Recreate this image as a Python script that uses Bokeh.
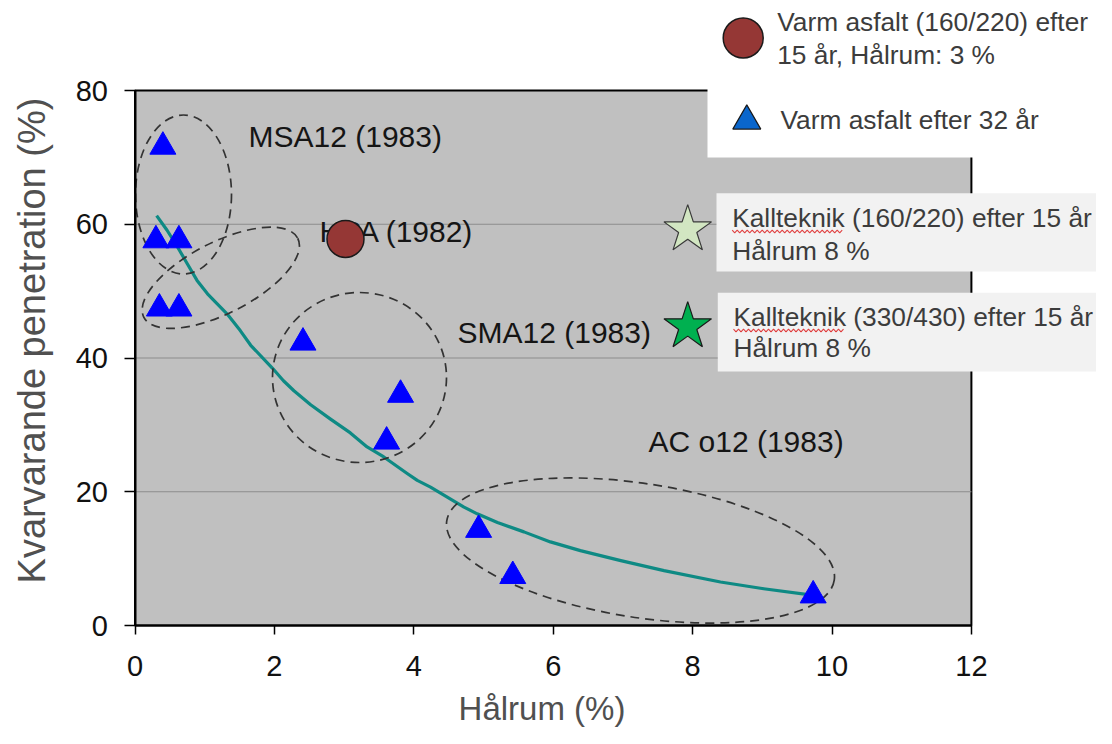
import math
from bokeh.plotting import figure
from bokeh.models import Range1d, FixedTicker
from bokeh.embed import file_html
from bokeh.resources import INLINE
from bokeh.core.properties import value

# ---------------- data ----------------
tri_x = [0.4, 0.3, 0.63, 0.35, 0.63, 2.41, 3.81, 3.61, 4.93, 5.42, 9.73]
tri_y = [71.6, 57.6, 57.6, 47.4, 47.4, 42.3, 34.5, 27.5, 14.3, 7.4, 4.5]

hpa_x = [3.02]
hpa_y = [57.8]

kall1_x = [7.93]
kall1_y = [59.2]
kall2_x = [7.93]
kall2_y = [44.7]

trend_x = [0.31, 0.46, 0.61, 0.75, 0.89, 1.04, 1.18, 1.32, 1.51, 1.66, 1.97, 2.13, 2.28,
           2.52, 2.80, 3.09, 3.33, 3.57, 3.91, 4.05, 4.24, 4.48, 4.72, 4.91, 5.20, 5.58,
           5.96, 6.39, 6.97, 7.59, 8.40, 9.02, 9.74]
trend_y = [61.3, 59.1, 56.6, 54.1, 51.6, 49.6, 48.1, 46.6, 44.1, 41.9, 38.5, 36.6, 35.1,
           33.0, 30.9, 28.8, 26.7, 25.2, 22.7, 21.7, 20.7, 19.2, 17.7, 16.7, 15.4, 14.0,
           12.5, 11.2, 9.7, 8.2, 6.5, 5.5, 4.5]

x_ticks = [0, 2, 4, 6, 8, 10, 12]
y_ticks = [0, 20, 40, 60, 80]

group_names = ["MSA12 (1983)", "HPA (1982)", "SMA12 (1983)", "AC o12 (1983)"]

legend_texts = ["Varm asfalt (160/220) efter", "15 år, Hålrum:  3 %", "Varm asfalt efter 32 år"]
kall1_texts = ["Kallteknik  (160/220) efter 15 år", "Hålrum  8 %"]
kall2_texts = ["Kallteknik  (330/430) efter 15 år", "Hålrum  8 %"]

x_title = "Hålrum (%)"
y_title = "Kvarvarande penetration (%)"

# ---------------- layout helpers (picture pixels -> data) ----------------
X0PX, XSC = 134.5, 69.7     # picture x of value 0, px per unit
Y0PX, YSC = 625.0, 6.6875   # picture y of value 0, px per unit
W, H = 1096, 728


def dx(px):
    return (px - X0PX) / XSC


def dy(py):
    return (Y0PX - py) / YSC


FONT = value("Liberation Sans")

p = figure(width=W, height=H, output_backend="svg", toolbar_location=None,
           x_range=Range1d(dx(0), dx(W)), y_range=Range1d(dy(H), dy(0)),
           min_border=0, min_border_left=0, min_border_right=0,
           min_border_top=0, min_border_bottom=0,
           outline_line_color=None, background_fill_color="white",
           border_fill_color="white")
p.xgrid.visible = False
p.ygrid.visible = False

# axes drawn through the origin of the grey plotting area
for ax, ticks, bounds in ((p.xaxis[0], x_ticks, (0, 12)), (p.yaxis[0], y_ticks, (0, 80))):
    ax.fixed_location = 0
    ax.bounds = bounds
    ax.ticker = FixedTicker(ticks=ticks)
    ax.axis_line_color = "black"
    ax.axis_line_width = 2
    ax.major_tick_line_color = "black"
    ax.major_tick_line_width = 1.5
    ax.major_tick_in = 0
    ax.minor_tick_line_color = None
    ax.major_label_text_font = "Liberation Sans"
    ax.major_label_text_font_size = "29px"
    ax.major_label_text_color = "#111111"
p.xaxis[0].major_tick_out = 9
p.xaxis[0].major_label_standoff = 21
p.yaxis[0].major_tick_out = 11
p.yaxis[0].major_label_standoff = 16

# grey plotting area
p.quad(left=[x_ticks[0]], right=[x_ticks[-1]], bottom=[y_ticks[0]], top=[y_ticks[-1]],
       fill_color="#c0c0c0", line_color="black", line_width=2)

# grid lines
inner = y_ticks[1:-1]
p.segment(x0=[x_ticks[0]] * len(inner), x1=[x_ticks[-1]] * len(inner), y0=inner, y1=inner,
          line_color="#8c8c8c", line_width=1.2)

# trend curve
p.line(trend_x, trend_y, line_color="#0e8a84", line_width=3.2, line_join="round")

# dashed group ellipses  (center x, center y, width [x units], height [y units], angle deg)
ellipses = [
    (dx(183), dy(194), 96 / XSC, 159 / YSC, 0),
    (dx(220.3), dy(277.3), 173 / XSC, 71 / YSC, 27.2),
    (dx(359), dy(377), 174 / XSC, 170 / YSC, 0),
    (dx(640), dy(550), 392 / XSC, 134 / YSC, -8.7),
]
for cx, cy, w, h, a in ellipses:
    p.ellipse(x=[cx], y=[cy], width=[w], height=[h], angle=[math.radians(a)],
              fill_color=None, line_color="#333333", line_width=1.7, line_dash="9 6")

# group labels (y = vertical centre of the capitals)
p.text(x=[dx(248), dx(319), dx(457), dx(648)],
       y=[dy(136), dy(231), dy(331.5), dy(441)],
       text=group_names, text_font=FONT, text_font_size="30px", text_color="#151515",
       text_align="left", text_baseline="middle")

# data markers
p.scatter(tri_x, tri_y, marker="triangle", size=26, fill_color="#0000ff", line_color="#0000ff")
p.scatter(hpa_x, hpa_y, marker="circle", size=37, fill_color="#953735", line_color="#1a1a1a",
          line_width=1.5)
p.scatter(kall1_x, kall1_y, marker="star", size=50, fill_color="#d2e6c2", line_color="#3a3a3a",
          line_width=1.2)
p.scatter(kall2_x, kall2_y, marker="star", size=50, fill_color="#00b050", line_color="#1a1a1a",
          line_width=1.2)

# legend box (top right) and the two note boxes
p.quad(left=[dx(707)], right=[dx(1120)], top=[dy(-5)], bottom=[dy(157)],
       fill_color="white", line_color=None)
p.quad(left=[dx(716), dx(717.3)], right=[dx(1120), dx(1120)], top=[dy(192.7), dy(292.3)],
       bottom=[dy(271), dy(371)], fill_color="#f2f2f2", line_color=None)

p.scatter([dx(742.7)], [dy(37.5)], marker="circle", size=40, fill_color="#953735",
          line_color="#1a1a1a", line_width=1.5)
p.scatter([dx(746.3)], [dy(120.5)], marker="triangle", size=28, fill_color="#0a66cc",
          line_color="#1a1a1a", line_width=1.2)

TXT = "#3c3c3c"
p.text(x=[dx(776.7), dx(776.7), dx(780)], y=[dy(21.3), dy(54.2), dy(119.2)],
       text=legend_texts, text_font=FONT, text_font_size="26.3px", text_color=TXT,
       text_align="left", text_baseline="middle")
p.text(x=[dx(731.7), dx(731.7)], y=[dy(217), dy(250)], text=kall1_texts,
       text_font=FONT, text_font_size="26.3px", text_color=TXT,
       text_align="left", text_baseline="middle")
p.text(x=[dx(733), dx(733)], y=[dy(316), dy(347.7)], text=kall2_texts,
       text_font=FONT, text_font_size="26.3px", text_color=TXT,
       text_align="left", text_baseline="middle")

# spell-check style red wavy underline under "Kallteknik" (decoration)
for x_start, yy in ((731.7, 231.0), (733.0, 330.0)):
    zx, zy = [], []
    k = 0
    xx = x_start
    while xx <= x_start + 110:
        zx.append(dx(xx))
        zy.append(dy(yy + (1.3 if k % 2 else -1.3)))
        xx += 2.5
        k += 1
    p.line(zx, zy, line_color="#e04040", line_width=1.1)

# axis titles
p.text(x=[dx(541.5)], y=[dy(708)], text=[x_title], text_font=FONT,
       text_font_size="33px", text_color="#505050", text_align="center",
       text_baseline="middle")
p.text(x=[dx(31)], y=[dy(340)], text=[y_title], text_font=FONT,
       text_font_size="38px", text_color="#505050", text_align="center",
       text_baseline="middle", angle=math.pi / 2)

open("out.html", "w").write(file_html(p, INLINE))
